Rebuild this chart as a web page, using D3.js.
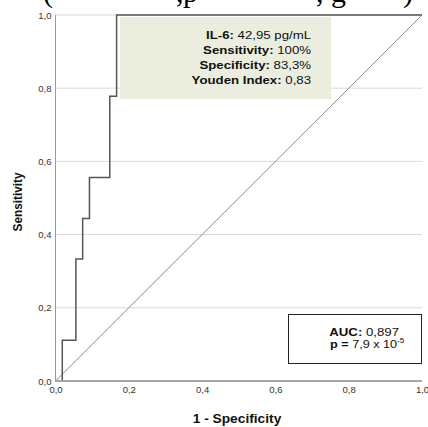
<!DOCTYPE html>
<html>
<head>
  <meta charset="utf-8">
  <title>ROC curve IL-6</title>
  <script src="https://d3js.org/d3.v7.min.js"></script>
  <style>
    body { margin: 0; background: #fff; }
    .axis text {
      font-family: "Liberation Sans", Arial, sans-serif;
      font-size: 9.5px;
      fill: #333;
    }
    .axis path, .axis line { display: none; }
    .lbl { font-family: "Liberation Sans", Arial, sans-serif; fill: #111; }
  </style>
</head>
<body>
<script>
  // data
  var fpr = [0, 0.0185, 0.0556, 0.0741, 0.0926, 0.1481, 0.1667, 1.0];
  var tpr = [0, 0.111, 0.333, 0.444, 0.556, 0.778, 1.0, 1.0];
  var ticks = [0, 0.2, 0.4, 0.6, 0.8, 1.0];
  var infoLines = [["IL-6:", " 42,95 pg/mL"], ["Sensitivity:", " 100%"], ["Specificity:", " 83,3%"], ["Youden Index:", " 0,83"]];

  var w = 428, h = 427;
  var padL = 55.5, padR = 422, padT = 15, padB = 381;
  var sx = 1.15; // text in the picture is a bit wider than tall

  var svg = d3.select("body").append("svg")
    .attr("width", w)
    .attr("height", h);

  var x = d3.scaleLinear().domain([0, 1]).range([padL, padR]);
  var y = d3.scaleLinear().domain([0, 1]).range([padB, padT]);

  // cropped caption from above the figure
  var cap = [["(", 43], [",", 176], ["p", 183], [",", 316], ["g", 331], [")", 403]];
  svg.selectAll(".cap").data(cap).enter().append("text")
    .attr("class", "cap")
    .attr("x", function(d) { return d[1]; })
    .attr("y", 2)
    .attr("font-family", "Liberation Serif, serif")
    .attr("font-size", 30)
    .text(function(d) { return d[0]; });

  // gridlines
  svg.selectAll(".grid").data(ticks.slice(1)).enter().append("line")
    .attr("x1", x(0)).attr("x2", x(1))
    .attr("y1", function(d) { return y(d); })
    .attr("y2", function(d) { return y(d); })
    .attr("stroke", "#d9d9d9")
    .attr("stroke-width", 1);

  // annotation box
  svg.append("rect")
    .attr("x", 120).attr("y", 17)
    .attr("width", 211).attr("height", 82)
    .attr("fill", "#ebeedf");

  var info = svg.append("g")
    .attr("transform", "translate(311,0) scale(" + sx + ",1)")
    .append("text")
    .attr("class", "lbl")
    .attr("text-anchor", "end")
    .attr("font-size", 11.5);
  infoLines.forEach(function(d, i) {
    var t = info.append("tspan").attr("x", 0).attr("y", 39 + i * 15.1);
    t.append("tspan").attr("font-weight", "bold").text(d[0]);
    t.append("tspan").text(d[1]);
  });

  // axes lines
  svg.append("line")
    .attr("x1", x(0)).attr("x2", x(0))
    .attr("y1", y(1)).attr("y2", y(0))
    .attr("stroke", "#999").attr("stroke-width", 1);

  // diagonal reference
  svg.append("line")
    .attr("x1", x(0)).attr("y1", y(0))
    .attr("x2", x(1)).attr("y2", y(1))
    .attr("stroke", "#8c8c8c").attr("stroke-width", 1);

  // ROC step curve
  var pts = fpr.map(function(d, i) { return [d, tpr[i]]; });
  var line = d3.line()
    .x(function(d) { return x(d[0]); })
    .y(function(d) { return y(d[1]); })
    .curve(d3.curveStepAfter);

  svg.append("path")
    .datum(pts)
    .attr("d", line)
    .attr("fill", "none")
    .attr("stroke", "#555")
    .attr("stroke-width", 1.5);

  svg.append("line")
    .attr("x1", x(0)).attr("x2", x(1))
    .attr("y1", y(0)).attr("y2", y(0))
    .attr("stroke", "#a6a6a6").attr("stroke-width", 2);

  var fmt = function(d) { return d3.format(".1f")(d).replace(".", ","); };

  svg.append("g")
    .attr("class", "axis")
    .attr("transform", "translate(" + (x(0) - 4) + ",0)")
    .call(d3.axisLeft(y).tickValues(ticks).tickFormat(fmt).tickSize(0).tickPadding(0));

  svg.append("g")
    .attr("class", "axis")
    .attr("transform", "translate(0," + (y(0) + 5) + ")")
    .call(d3.axisBottom(x).tickValues(ticks).tickFormat(fmt).tickSize(0).tickPadding(0));

  // AUC box
  svg.append("rect")
    .attr("x", 288.5).attr("y", 314.5)
    .attr("width", 133).attr("height", 49)
    .attr("fill", "#fff")
    .attr("stroke", "#222").attr("stroke-width", 1);

  var aucG = svg.append("g")
    .attr("transform", "translate(399,0) scale(" + sx + ",1)");
  var auc = aucG.append("text").attr("class", "lbl")
    .attr("text-anchor", "end").attr("font-size", 11.5)
    .attr("x", 0).attr("y", 336);
  auc.append("tspan").attr("font-weight", "bold").text("AUC:");
  auc.append("tspan").text(" 0,897");

  var pv = svg.append("g")
    .attr("transform", "translate(330,0) scale(" + sx + ",1)")
    .append("text").attr("class", "lbl")
    .attr("font-size", 11)
    .attr("x", 0).attr("y", 348);
  pv.append("tspan").attr("font-weight", "bold").text("p =");
  pv.append("tspan").text(" 7,9 x 10");
  pv.append("tspan").attr("font-size", 7).attr("dy", -5).text("-5");

  // axis titles
  svg.append("g")
    .attr("transform", "translate(237,423) scale(1.1,1)")
    .append("text").attr("class", "lbl")
    .attr("text-anchor", "middle").attr("font-weight", "bold")
    .attr("font-size", 12.5)
    .text("1 - Specificity");

  svg.append("g")
    .attr("transform", "translate(21.5,202) scale(1.1,1) rotate(-90)")
    .append("text").attr("class", "lbl")
    .attr("text-anchor", "middle").attr("font-weight", "bold")
    .attr("font-size", 11.8)
    .text("Sensitivity");
</script>
</body>
</html>
